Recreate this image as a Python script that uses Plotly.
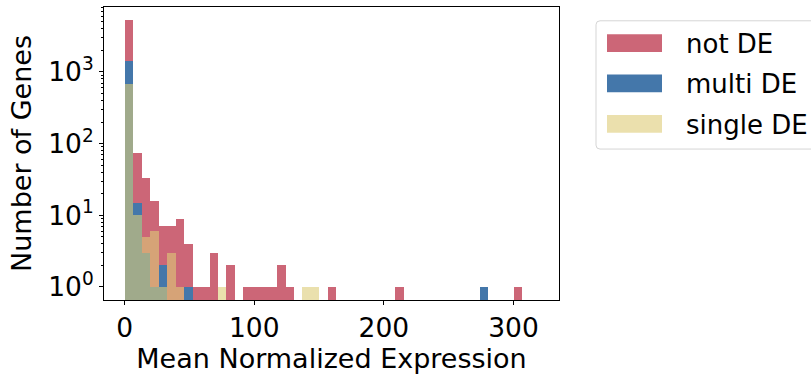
import plotly.graph_objects as go

# ---------------- data ----------------
series_names = ["not DE", "multi DE", "single DE"]
series_colors = ["#CC6677", "#4477AA", "#DDCC77"]
series_opacity = [1.0, 1.0, 0.6]

bin_start = 0.3      # left edge of the first bin
bin_width = 6.52     # width of every bin

# gene counts per bin (bins 0..46)
not_de = [5300, 73, 33, 16, 7, 7, 9, 4, 1, 1,
          3, 0, 2, 0, 1, 1, 1, 1, 2, 1,
          0, 0, 0, 0, 1, 0, 0, 0, 0, 0,
          0, 0, 1, 0, 0, 0, 0, 0, 0, 0,
          0, 0, 0, 0, 0, 0, 1]
multi_de = [1410, 15, 3, 1, 2, 0, 0, 1, 0, 0,
            0, 0, 0, 0, 0, 0, 0, 0, 0, 0,
            0, 0, 0, 0, 0, 0, 0, 0, 0, 0,
            0, 0, 0, 0, 0, 0, 0, 0, 0, 0,
            0, 0, 1, 0, 0, 0, 0]
single_de = [685, 10, 5, 6, 1, 3, 1, 0, 0, 0,
             0, 1, 0, 0, 0, 0, 0, 0, 0, 0,
             0, 1, 1, 0, 0, 0, 0, 0, 0, 0,
             0, 0, 0, 0, 0, 0, 0, 0, 0, 0,
             0, 0, 0, 0, 0, 0, 0]

x_tick_vals = [0, 100, 200, 300]
y_tick_vals = [1, 10, 100, 1000]
y_tick_text = ["10<sup>0</sup>", "10<sup>1</sup>", "10<sup>2</sup>", "10<sup>3</sup>"]
x_title = "Mean Normalized Expression"
y_title = "Number of Genes"

# ---------------- figure ----------------
W, H = 811, 374
L, R, T, B = 104, 252, 6, 71
FONT = "DejaVu Sans"
FS_TICK = 26.5
FS_TITLE = 27
FS_LEG = 26

fig = go.Figure()
all_counts = [not_de, multi_de, single_de]
for name, counts, color, op in zip(series_names, all_counts, series_colors, series_opacity):
    centers = [bin_start + bin_width * (i + 0.5) for i in range(len(counts))]
    ys = [c if c > 0 else None for c in counts]
    fig.add_trace(go.Bar(
        x=centers, y=ys, width=bin_width, name=name,
        marker=dict(color=color, line=dict(width=0)),
        opacity=op, showlegend=False,
    ))

minor_vals = [m * 10 ** k for k in range(0, 4) for m in range(2, 10)]

fig.update_layout(
    width=W, height=H,
    margin=dict(l=L, r=R, t=T, b=B, pad=0),
    paper_bgcolor="white", plot_bgcolor="white",
    barmode="overlay", bargap=0,
    font=dict(family=FONT, size=FS_TICK, color="black"),
    xaxis=dict(
        range=[-15.9, 335.1], tickmode="array", tickvals=x_tick_vals,
        ticks="outside", ticklen=4, tickwidth=1, tickcolor="black",
        tickfont=dict(size=FS_TICK),
        showline=True, linecolor="black", linewidth=1, mirror=True,
        showgrid=False, zeroline=False,
        title=dict(text=x_title, font=dict(size=FS_TITLE), standoff=6),
    ),
    yaxis=dict(
        type="log", range=[-0.182, 3.906],
        tickmode="array", tickvals=y_tick_vals, ticktext=y_tick_text,
        ticks="outside", ticklen=4, tickwidth=1, tickcolor="black",
        tickfont=dict(size=FS_TICK),
        minor=dict(tickmode="array", tickvals=minor_vals, ticks="outside",
                   ticklen=2, tickwidth=0.8, tickcolor="black", showgrid=False),
        showline=True, linecolor="black", linewidth=1, mirror=True,
        showgrid=False, zeroline=False,
        title=dict(text=y_title, font=dict(size=FS_TITLE), standoff=8),
    ),
)

# ---------------- legend (drawn manually to match wide patches) ----------------
plot_w = W - L - R
plot_h = H - T - B


def px_x(px):
    return (px - L) / plot_w


def px_y(py):
    return (H - B - py) / plot_h


# legend frame with rounded corners
x0, x1, y0, y1, rr = 596, 840, 20, 150, 4
path = (f"M {x0 + rr},{y0} L {x1 - rr},{y0} Q {x1},{y0} {x1},{y0 + rr} "
        f"L {x1},{y1 - rr} Q {x1},{y1} {x1 - rr},{y1} L {x0 + rr},{y1} "
        f"Q {x0},{y1} {x0},{y1 - rr} L {x0},{y0 + rr} Q {x0},{y0} {x0 + rr},{y0} Z")


def conv_path(p):
    out = []
    for t in p.split(" "):
        if "," in t:
            a, b = t.split(",")
            out.append(f"{px_x(float(a)):.5f},{px_y(float(b)):.5f}")
        else:
            out.append(t)
    return " ".join(out)


fig.add_shape(type="path", path=conv_path(path), xref="paper", yref="paper",
              line=dict(color="#D5D5D5", width=1), fillcolor="rgba(255,255,255,0.8)",
              layer="above")

row_centers = [42.5, 83.5, 124.5]
for name, color, op, yc in zip(series_names, series_colors, series_opacity, row_centers):
    fig.add_shape(type="rect", xref="paper", yref="paper",
                  x0=px_x(607), x1=px_x(662), y0=px_y(yc - 9), y1=px_y(yc + 9),
                  fillcolor=color, opacity=op, line=dict(width=0), layer="above")
    fig.add_annotation(text=name, xref="paper", yref="paper",
                       x=px_x(684), y=px_y(yc + 1), xanchor="left", yanchor="middle",
                       showarrow=False, font=dict(family=FONT, size=FS_LEG, color="black"))

fig.write_html(
    "out.html",
    config={"displayModeBar": False},
    post_script="document.body.style.margin='0';document.body.style.padding='0';",
)
